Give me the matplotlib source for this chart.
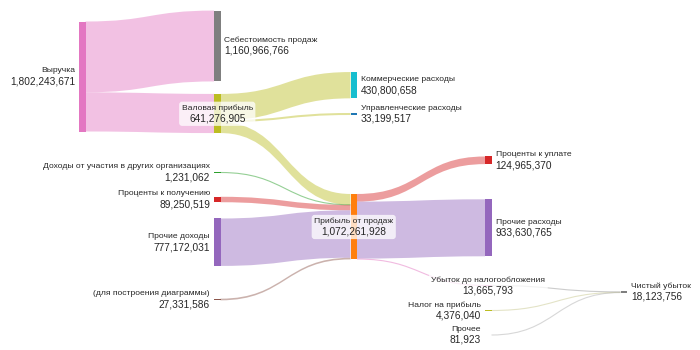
import matplotlib.pyplot as plt
from matplotlib.path import Path
from matplotlib.patches import PathPatch, Rectangle, FancyBboxPatch
from matplotlib.transforms import Bbox

plt.rcParams['font.family'] = ['Liberation Sans', 'DejaVu Sans']

node_labels = [
    "Выручка",
    "Себестоимость продаж",
    "Валовая прибыль",
    "Коммерческие расходы",
    "Управленческие расходы",
    "Доходы от участия в других организациях",
    "Проценты к получению",
    "Прочие доходы",
    "(для построения диаграммы)",
    "Прибыль от продаж",
    "Проценты к уплате",
    "Прочие расходы",
    "Убыток до налогообложения",
    "Налог на прибыль",
    "Прочее",
    "Чистый убыток",
]
node_colors = [
    "#e377c2", "#7f7f7f", "#bcbd22", "#17becf", "#1f77b4", "#2ca02c",
    "#d62728", "#9467bd", "#8c564b", "#ff7f0e", "#d62728", "#9467bd",
    "#e377c2", "#bcbd22", "#17becf", "#7f7f7f",
]
node_columns = [0, 1, 1, 2, 2, 1, 1, 1, 1, 2, 3, 3, 3, 3, 3, 4]

link_source = [0, 0, 2, 2, 2, 5, 6, 7, 8, 9, 9, 9, 12, 13, 14]
link_target = [1, 2, 3, 4, 9, 9, 9, 9, 9, 10, 11, 12, 15, 15, 15]
link_value = [
    1160966766, 641276905, 430800658, 33199517, 177276730, 1231062,
    89250519, 777172031, 27331586, 124965370, 933630765, 13665793,
    13665793, 4376040, 81923,
]
link_colors = [
    "#e377c2", "#e377c2", "#bcbd22", "#bcbd22", "#bcbd22", "#2ca02c",
    "#d62728", "#9467bd", "#8c564b", "#d62728", "#9467bd", "#e377c2",
    "#9a9a9a", "#c8c890", "#b0b0b0",
]

# layout in pixels
column_x = [79, 214, 350.5, 485, 620.5]
node_width = 6.5
node_center_y = [76.5, 46, 113.5, 85.2, 114, 172.5, 199.5, 242.2, 299.5,
                 226.7, 160.3, 227.8, 285.5, 310.5, 335, 292]
label_side = ["left", "right", "center", "right", "right", "left", "left",
              "left", "left", "center", "right", "right", "center", "left",
              "left", "right"]
scale = 110 / 1802243671
text_color = "#262626"

n = len(node_labels)
values = []
for i in range(n):
    vin = sum(v for s, t, v in zip(link_source, link_target, link_value) if t == i)
    vout = sum(v for s, t, v in zip(link_source, link_target, link_value) if s == i)
    values.append(max(vin, vout))
tops = [node_center_y[i] - values[i] * scale / 2 for i in range(n)]

fig = plt.figure(figsize=(7, 3.5), dpi=100)
ax = fig.add_axes([0, 0, 1, 1])
ax.set_xlim(0, 700)
ax.set_ylim(350, 0)
ax.axis("off")

# stacking offsets
out_off = list(tops)
in_off = list(tops)
order = range(len(link_value))
out_pos = {}
in_pos = {}
for i in sorted(order, key=lambda k: (link_source[k], node_center_y[link_target[k]])):
    h = link_value[i] * scale
    out_pos[i] = out_off[link_source[i]]
    out_off[link_source[i]] += h
for i in sorted(order, key=lambda k: (link_target[k], node_center_y[link_source[k]])):
    h = link_value[i] * scale
    in_pos[i] = in_off[link_target[i]]
    in_off[link_target[i]] += h

for i in order:
    s, t = link_source[i], link_target[i]
    h = link_value[i] * scale
    x0 = column_x[node_columns[s]] + node_width
    x1 = column_x[node_columns[t]]
    xm = (x0 + x1) / 2
    y0, y1 = out_pos[i], in_pos[i]
    if h < 1.0:
        c0, c1 = y0 + h / 2, y1 + h / 2
        p = Path([(x0, c0), (xm, c0), (xm, c1), (x1, c1)],
                 [Path.MOVETO, Path.CURVE4, Path.CURVE4, Path.CURVE4])
        ax.add_patch(PathPatch(p, fc="none", ec=link_colors[i], lw=0.8,
                               alpha=0.5, zorder=1))
    else:
        verts = [(x0, y0), (xm, y0), (xm, y1), (x1, y1),
                 (x1, y1 + h), (xm, y1 + h), (xm, y0 + h), (x0, y0 + h),
                 (x0, y0)]
        codes = [Path.MOVETO, Path.CURVE4, Path.CURVE4, Path.CURVE4,
                 Path.LINETO, Path.CURVE4, Path.CURVE4, Path.CURVE4,
                 Path.CLOSEPOLY]
        ax.add_patch(PathPatch(Path(verts, codes), fc=link_colors[i],
                               ec="none", alpha=0.45, zorder=1))

for i in range(n):
    x = column_x[node_columns[i]]
    ax.add_patch(Rectangle((x, tops[i]), node_width, values[i] * scale,
                           fc=node_colors[i], ec="none", zorder=2))

boxed = []
for i in range(n):
    x = column_x[node_columns[i]]
    cy = node_center_y[i]
    side = label_side[i]
    if side == "left":
        tx, ha = x - 4, "right"
    elif side == "right":
        tx, ha = x + node_width + 4, "left"
    else:
        tx, ha = x + node_width / 2, "center"
    t1 = ax.text(tx, cy - 5.6, node_labels[i], ha=ha, va="center",
                 fontsize=6.1, color=text_color, zorder=4)
    t2 = ax.text(tx, cy + 4.9, f"{values[i]:,}", ha=ha, va="center",
                 fontsize=7.3, color=text_color, zorder=4)
    if side == "center":
        boxed.append((t1, t2))

fig.canvas.draw()
renderer = fig.canvas.get_renderer()
inv = ax.transData.inverted()
for t1, t2 in boxed:
    bb = Bbox.union([t1.get_window_extent(renderer), t2.get_window_extent(renderer)])
    (bx0, by0), (bx1, by1) = inv.transform([(bb.x0, bb.y0), (bb.x1, bb.y1)])
    y_lo, y_hi = min(by0, by1), max(by0, by1)
    ax.add_patch(FancyBboxPatch((bx0, y_lo), bx1 - bx0, y_hi - y_lo,
                                boxstyle="round,pad=2.5,rounding_size=3",
                                fc="white", ec="none", alpha=0.75, zorder=3))

fig.savefig("out.png", dpi=100)
